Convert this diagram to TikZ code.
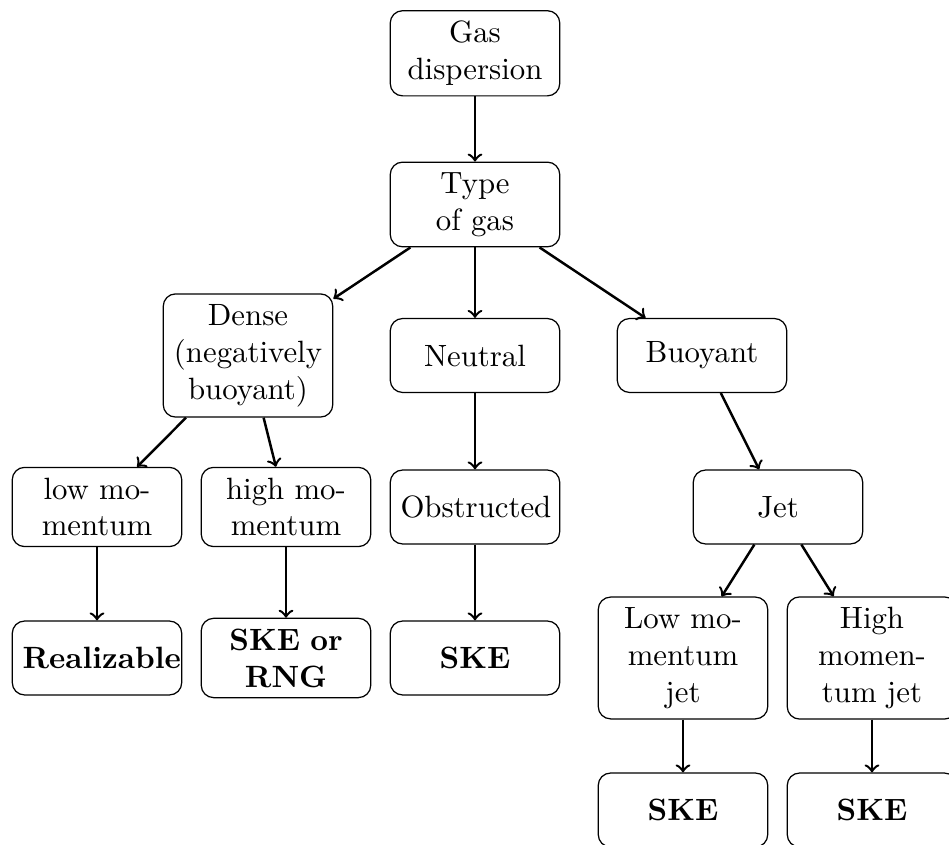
\documentclass[tikz,border=0pt]{standalone}
\begin{document}
\begin{tikzpicture}[x=0.3247pt,y=-0.3247pt,
  box/.style={draw, thin, rounded corners, text width=1.7cm, align=center, minimum height=24pt},
  leaf/.style={box, font=\bfseries},
  link/.style={->, thick}]
\useasboundingbox (0,0) rectangle (949,845);

% root and gas type
\node[box] (gas)  at (475,53.3)  {Gas dispersion};
\node[box] (type) at (475,204.5) {Type of gas};

% gas classes
\node[box] (dense)   at (248,355.5) {Dense (negatively buoyant)};
\node[box] (neutral) at (475,355.5) {Neutral};
\node[box] (buoy)    at (702,355.5) {Buoyant};

% release conditions
\node[box] (lowm)  at (97,507)  {low momentum};
\node[box] (highm) at (286,507) {high momentum};
\node[box] (obst)  at (475,507) {Obstructed};
\node[box] (jet)   at (778,507) {Jet};
\node[box] (lowj)  at (683,658) {Low momentum jet};
\node[box] (highj) at (872,658) {High momentum jet};

% recommended turbulence models
\node[leaf] (real)   at (97,658)  {Realizable};
\node[leaf] (skerng) at (286,658) {SKE or RNG};
\node[leaf] (ske1)   at (475,658) {SKE};
\node[leaf] (ske2)   at (683,810) {SKE};
\node[leaf] (ske3)   at (872,810) {SKE};

% connectors
\draw[link] (gas) -- (type);
\draw[link] (type) -- (dense);
\draw[link] (type) -- (neutral);
\draw[link] (type) -- (buoy);
\draw[link] (dense) -- (lowm);
\draw[link] (dense) -- (highm);
\draw[link] (neutral) -- (obst);
\draw[link] (buoy) -- (jet);
\draw[link] (jet) -- (lowj);
\draw[link] (jet) -- (highj);
\draw[link] (lowm) -- (real);
\draw[link] (highm) -- (skerng);
\draw[link] (obst) -- (ske1);
\draw[link] (lowj) -- (ske2);
\draw[link] (highj) -- (ske3);
\end{tikzpicture}
\end{document}
